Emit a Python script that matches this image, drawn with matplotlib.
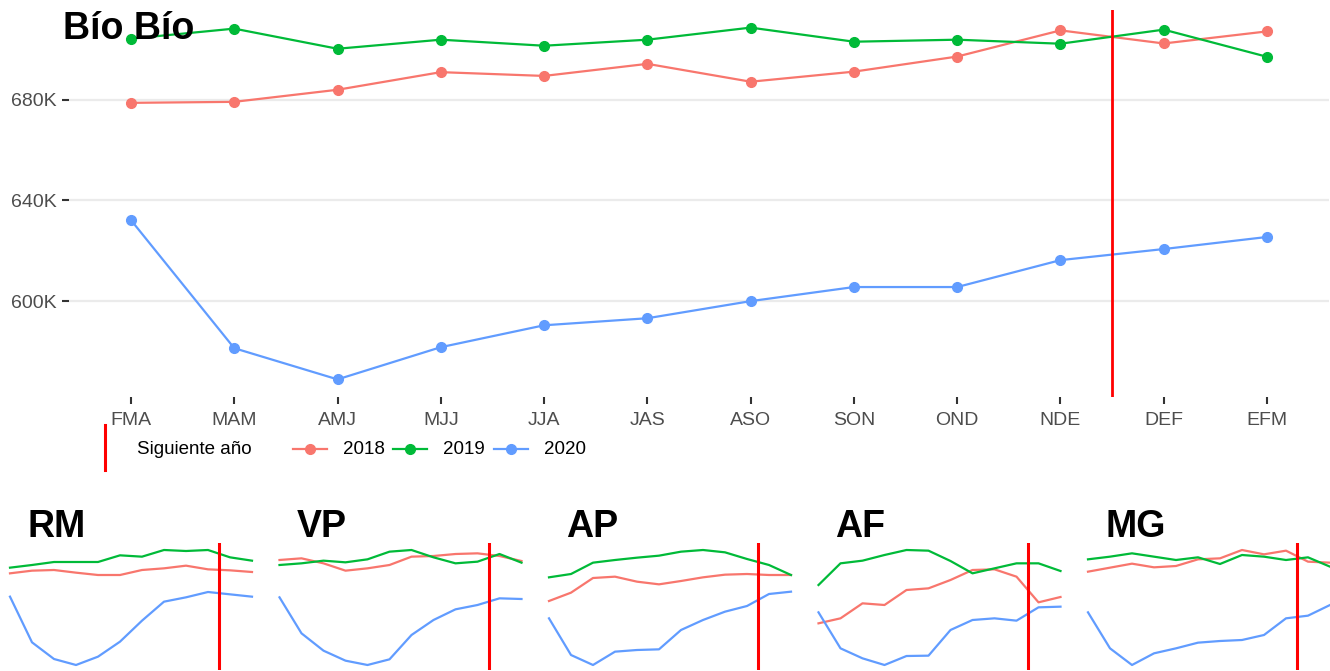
#!/usr/bin/env python3
import numpy as np
import matplotlib
matplotlib.use('Agg')
import matplotlib.pyplot as plt

'''
Ocupados por trimestre movil, Bio Bio y regiones pequenas
'''

plt.rcParams['font.family'] = ['Liberation Sans', 'DejaVu Sans']

months = ['FMA', 'MAM', 'AMJ', 'MJJ', 'JJA', 'JAS', 'ASO', 'SON', 'OND', 'NDE', 'DEF', 'EFM']
years = ['2018', '2019', '2020']
colors = {'2018': '#F8766D', '2019': '#00BA38', '2020': '#619CFF'}

# Bio Bio, miles de personas
bio_2018 = [678.8, 679.2, 684.0, 691.0, 689.5, 694.3, 687.2, 691.2, 697.2, 707.6, 702.4, 707.2]
bio_2019 = [704.3, 708.3, 700.3, 703.9, 701.5, 703.9, 708.7, 703.1, 703.9, 702.3, 707.9, 697.1]
bio_2020 = [632.2, 581.3, 568.9, 581.7, 590.4, 593.2, 600.0, 605.6, 605.6, 616.3, 620.7, 625.5]

# regiones pequenas (escala relativa, cada panel con su propia escala)
rm_2018 = [290, 298, 300, 292, 285, 285, 300, 305, 313, 302, 299, 294]
rm_2019 = [307, 315, 324, 324, 324, 344, 340, 360, 357, 360, 338, 328]
rm_2020 = [220, 83, 33, 15, 40, 85, 148, 205, 218, 234, 227, 220]

vp_2018 = [330, 335, 320, 298, 305, 315, 340, 342, 348, 350, 342, 327]
vp_2019 = [315, 320, 328, 323, 332, 355, 360, 338, 320, 325, 348, 322]
vp_2020 = [218, 110, 58, 28, 15, 32, 105, 150, 182, 195, 215, 213]

ap_2018 = [207, 232, 276, 280, 265, 257, 267, 278, 286, 288, 285, 285]
ap_2019 = [278, 288, 322, 330, 337, 343, 355, 360, 353, 333, 315, 285]
ap_2020 = [155, 45, 15, 55, 60, 62, 120, 150, 175, 192, 228, 235]

af_2018 = [140, 155, 200, 195, 240, 245, 270, 300, 302, 280, 203, 219]
af_2019 = [255, 320, 328, 345, 360, 358, 327, 290, 305, 320, 320, 297]
af_2020 = [173, 65, 35, 15, 42, 43, 120, 150, 155, 148, 188, 190]

mg_2018 = [295, 307, 319, 308, 312, 332, 335, 360, 347, 358, 325, 322]
mg_2019 = [332, 340, 350, 340, 330, 338, 318, 345, 340, 330, 338, 310]
mg_2020 = [173, 65, 15, 50, 65, 82, 87, 90, 105, 155, 163, 195]

small = [
    ('RM', rm_2018, rm_2019, rm_2020),
    ('VP', vp_2018, vp_2019, vp_2020),
    ('AP', ap_2018, ap_2019, ap_2020),
    ('AF', af_2018, af_2019, af_2020),
    ('MG', mg_2018, mg_2019, mg_2020),
]

W, H = 1330, 671
fig = plt.figure(figsize=(W / 100, H / 100), dpi=100)

def px(x0, y0, x1, y1):
    return [x0 / W, 1 - y1 / H, (x1 - x0) / W, (y1 - y0) / H]

# panel principal
ax = fig.add_axes(px(69, 10, 1329, 397))
x = np.arange(len(months))
for yr, vals in zip(years, [bio_2018, bio_2019, bio_2020]):
    ax.plot(x, vals, color=colors[yr], lw=1.6, marker='o', ms=7, zorder=3)
ax.axvline(9.5, color='red', lw=2, zorder=4)
ax.set_xlim(-0.6, 11.6)
ax.set_ylim(561.9, 715.7)
ax.set_yticks([600, 640, 680])
ax.set_yticklabels(['600K', '640K', '680K'])
ax.set_xticks(x)
ax.set_xticklabels(months)
ax.grid(axis='y', color='#ebebeb', lw=1.6, zorder=0)
ax.tick_params(colors='#333333', labelcolor='#4d4d4d', labelsize=14, length=5, width=1.5)
ax.tick_params(axis='x', pad=6)
ax.tick_params(axis='y', pad=4)
for s in ax.spines.values():
    s.set_visible(False)
fig.text(63 / W, 1 - 39 / H, 'Bío Bío', fontsize=27, fontweight='bold', va='baseline', ha='left')

# leyenda
lax = fig.add_axes([0, 0, 1, 1])
lax.set_xlim(0, W)
lax.set_ylim(H, 0)
lax.axis('off')
lax.plot([105, 105], [425, 470], color='red', lw=2.2)
lax.text(137, 449, 'Siguiente año', fontsize=13.5, va='center', ha='left')
for yr, x0 in zip(years, [293, 393, 494]):
    lax.plot([x0, x0 + 34], [449, 449], color=colors[yr], lw=1.6)
    lax.plot([x0 + 17], [449], 'o', color=colors[yr], ms=7)
    lax.text(x0 + 50, 449, yr, fontsize=13.5, va='center', ha='left')

# paneles pequenos
for i, (name, a, b, c) in enumerate(small):
    left = 10 + i * 269.5
    sax = fig.add_axes(px(left, 543, left + 242, 670))
    for yr, vals in zip(years, [a, b, c]):
        sax.plot(x, vals, color=colors[yr], lw=1.6, clip_on=False)
    sax.axvline(9.5, color='red', lw=2.2)
    sax.set_xlim(0, 11)
    sax.set_ylim(0, 381)
    sax.axis('off')
    fig.text((left + 17) / W, 1 - 537 / H, name, fontsize=27, fontweight='bold', va='baseline', ha='left')

fig.savefig('out.png', dpi=100)
